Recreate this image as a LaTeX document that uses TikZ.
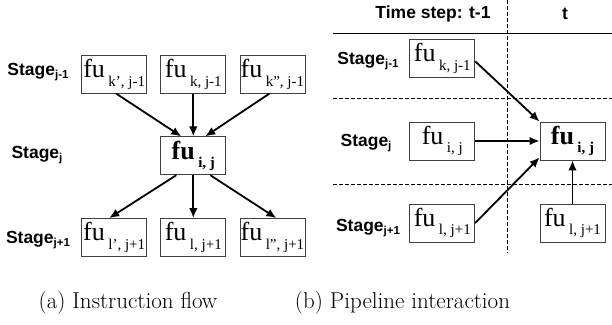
\documentclass[tikz,border=0pt]{standalone}
\usepackage{fontspec}
\newfontfamily\timesf{Liberation Serif}
\newfontfamily\arialf{Liberation Sans}
\usetikzlibrary{arrows.meta,positioning}

\newcommand{\fulabel}[1]{{\fontsize{26}{26}\selectfont fu}\hspace{3.5pt}\raisebox{-8.5pt}{\fontsize{15}{15}\selectfont #1}}
\newcommand{\stagelabel}[1]{Stage\raisebox{-3.5pt}{\fontsize{11.5}{11.5}\selectfont #1}}

\begin{document}
\begin{tikzpicture}[
  x=1pt, y=-1pt,
  node distance=13.3pt,
  fubox/.style={draw=black!75, line width=0.8pt, minimum width=65pt, minimum height=38pt, inner sep=0.5pt, font=\timesf},
  bigbox/.style={fubox, font=\timesf\bfseries},
  stagetext/.style={font=\arialf\bfseries\fontsize{17.5}{17.5}\selectfont},
  captext/.style={font=\fontsize{23}{26}\selectfont},
  arr/.style={-{Latex[length=10pt,width=8.5pt]}, line width=1.8pt},
  sep/.style={line width=0.9pt, dash pattern=on 3.5pt off 2.5pt}
]
\useasboundingbox (0,0) rectangle (612,324);

% (a) instruction flow
\node[fubox] (k) at (193.3,74.2) {\fulabel{k, j-1}};
\node[fubox, left=of k] (kp) {\fulabel{k’, j-1}};
\node[fubox, right=of k] (kpp) {\fulabel{k”, j-1}};
\node[bigbox] (fij) at (193.3,155.8) {\fulabel{i, j}};
\node[fubox] (l) at (193.3,237.5) {\fulabel{l, j+1}};
\node[fubox, left=of l] (lp) {\fulabel{l’, j+1}};
\node[fubox, right=of l] (lpp) {\fulabel{l”, j+1}};

\node[stagetext] (sa1) at (38,72) {\stagelabel{j-1}};
\node[stagetext] (sa2) at (37,155) {\stagelabel{j}};
\node[stagetext] (sa3) at (38,240) {\stagelabel{j+1}};

\draw[arr] ([xshift=2pt]kp.south) -- ([xshift=-12pt]fij.north);
\draw[arr] (k) -- (fij);
\draw[arr] ([xshift=-3pt]kpp.south) -- ([xshift=12pt]fij.north);
\draw[arr] ([xshift=-17pt]fij.south) -- ([xshift=-5pt]lp.north);
\draw[arr] (fij) -- (l);
\draw[arr] ([xshift=17pt]fij.south) -- ([xshift=4pt]lpp.north);

\node[captext] (capa) at (128,303) {(a) Instruction flow};

% (b) pipeline interaction
\node[stagetext] (tprev) at (433,14) {Time step: t-1};
\node[stagetext] (tnow) at (565,14) {t};
\coordinate (hl) at (333,33.3);
\coordinate (hr) at (612,33.3);
\draw[line width=0.8pt] (hl) -- (hr);
\coordinate (d1l) at (333,98.3);
\coordinate (d1r) at (612,98.3);
\coordinate (d2l) at (333,184);
\coordinate (d2r) at (612,184);
\coordinate (vt) at (507,0);
\coordinate (vb) at (507,253);
\draw[sep] (d1l) -- (d1r);
\draw[sep] (d2l) -- (d2r);
\draw[sep] (vt) -- (vb);

\node[fubox] (pk) at (442.3,58.3) {\fulabel{k, j-1}};
\node[fubox] (pi) at (442.3,141) {\fulabel{i, j}};
\node[fubox] (pl) at (442.3,223) {\fulabel{l, j+1}};
\node[bigbox] (pij) at (572.5,141) {\fulabel{i, j}};
\node[fubox] (ql) at (572.5,223) {\fulabel{l, j+1}};

\node[stagetext] (sb1) at (368,61) {\stagelabel{j-1}};
\node[stagetext] (sb2) at (366,143) {\stagelabel{j}};
\node[stagetext] (sb3) at (368,228) {\stagelabel{j+1}};

\draw[arr] ([yshift=-3pt]pk.east) -- (pij.north west);
\draw[arr] (pi) -- (pij);
\draw[arr] (pl.east) -- ([yshift=3pt]pij.south west);
\draw[arr] (ql) -- (pij);

\node[captext] (capb) at (402.5,303) {(b) Pipeline interaction};
\end{tikzpicture}
\end{document}
